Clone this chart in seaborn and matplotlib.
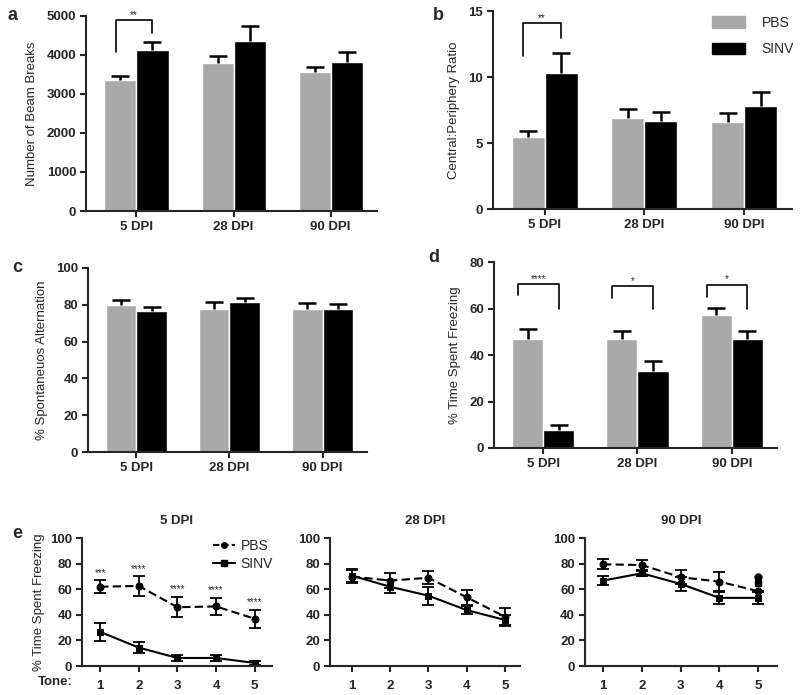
import matplotlib
matplotlib.use("Agg")
import matplotlib.pyplot as plt
from matplotlib.lines import Line2D
from matplotlib.patches import Patch
import seaborn as sns
import pandas as pd

days = ["5 DPI", "28 DPI", "90 DPI"]
groups = ["PBS", "SINV"]
tones = [1, 2, 3, 4, 5]

# a - beam breaks
beam_pbs = [3350, 3790, 3570]
beam_sinv = [4140, 4370, 3830]
beam_pbs_err = [110, 190, 130]
beam_sinv_err = [190, 380, 240]

# b - central:periphery ratio
ratio_pbs = [5.5, 6.93, 6.58]
ratio_sinv = [10.34, 6.7, 7.84]
ratio_pbs_err = [0.42, 0.66, 0.73]
ratio_sinv_err = [1.51, 0.66, 1.06]

# c - spontaneous alternation
alt_pbs = [79.9, 77.9, 77.4]
alt_sinv = [76.8, 81.3, 77.7]
alt_pbs_err = [2.5, 3.6, 3.4]
alt_sinv_err = [2.0, 2.2, 2.6]

# d - freezing
frz_pbs = [47.0, 46.7, 57.1]
frz_sinv = [7.7, 33.0, 46.7]
frz_pbs_err = [4.3, 3.7, 3.3]
frz_sinv_err = [2.2, 4.6, 3.6]

# e - freezing per tone
e5_pbs = [62.0, 62.6, 46.0, 46.6, 37.0]
e5_pbs_err = [5.0, 7.5, 8.0, 6.5, 7.0]
e5_sinv = [26.7, 14.4, 6.3, 6.3, 2.4]
e5_sinv_err = [7.0, 4.5, 2.0, 2.0, 1.5]
e5_stars = ["***", "****", "****", "****", "****"]

e28_pbs = [70.0, 66.8, 69.0, 53.7, 38.5]
e28_pbs_err = [5.0, 6.0, 5.0, 6.0, 7.0]
e28_sinv = [70.7, 62.0, 55.0, 43.7, 36.0]
e28_sinv_err = [5.0, 5.0, 7.0, 3.0, 4.0]

e90_pbs = [79.5, 79.0, 69.4, 66.0, 58.5]
e90_pbs_err = [4.0, 4.0, 5.5, 7.5, 0.0]
e90_sinv = [66.8, 72.5, 64.2, 53.3, 53.3]
e90_sinv_err = [3.5, 2.0, 5.5, 4.5, 4.5]
# stray markers at tone 5 in the 90 DPI panel
e90_stray_pbs = [69.4]
e90_stray_sinv = [65.0]

GRAY = "#a9a9a9"

sns.set_style("ticks")
plt.rcParams["font.family"] = ["Liberation Sans", "DejaVu Sans"]
plt.rcParams["font.weight"] = "bold"
plt.rcParams["axes.linewidth"] = 1.5

fig = plt.figure(figsize=(8, 6.95), dpi=100)


def style_axes(ax):
    sns.despine(ax=ax)
    ax.tick_params(direction="out", length=4, width=1.5, labelsize=9.5, pad=3)


def bar_panel(ax, pbs, sinv, pbs_err, sinv_err, ymax, ystep, ylabel):
    df = pd.DataFrame({"day": days * 2,
                       "group": ["PBS"] * 3 + ["SINV"] * 3,
                       "value": pbs + sinv})
    sns.barplot(data=df, x="day", y="value", hue="group", hue_order=groups,
                palette={"PBS": GRAY, "SINV": "black"}, saturation=1,
                width=0.66, errorbar=None, legend=False, ax=ax)
    bars = sorted(ax.patches, key=lambda p: p.get_x())
    xs = [p.get_x() + p.get_width() / 2 for p in bars]
    hs = [p.get_height() for p in bars]
    errs = []
    for i in range(3):
        errs += [pbs_err[i], sinv_err[i]]
    tops = [h + e for h, e in zip(hs, errs)]
    # upper-only error bars with a single cap
    ax.vlines(xs, hs, tops, color="black", lw=1.8)
    ax.plot(xs, tops, ls="none", marker="_", markersize=13, mew=1.8,
            color="black")
    ax.set_ylim(0, ymax)
    ax.set_yticks(range(0, ymax + 1, ystep))
    ax.set_xlim(-0.52, 2.48)
    ax.set_xlabel("")
    ax.set_ylabel(ylabel, fontsize=9.5, fontweight="normal", labelpad=6)
    style_axes(ax)
    return xs


def bracket(ax, x1, x2, yl, yt, yr, text):
    ax.plot([x1, x1, x2, x2], [yl, yt, yt, yr], color="black", lw=1.2)
    ax.text((x1 + x2) / 2, yt, text, ha="center", va="bottom",
            fontsize=7, fontweight="normal")


# a
ax_a = fig.add_axes([0.1075, 0.6964, 0.364, 0.2806])
xs = bar_panel(ax_a, beam_pbs, beam_sinv, beam_pbs_err, beam_sinv_err,
               5000, 1000, "Number of Beam Breaks")
bracket(ax_a, xs[0] - 0.05, xs[1], 4080, 4900, 4570, "**")

# b
ax_b = fig.add_axes([0.616, 0.699, 0.374, 0.285])
xs = bar_panel(ax_b, ratio_pbs, ratio_sinv, ratio_pbs_err, ratio_sinv_err,
               15, 5, "Central:Periphery Ratio")
bracket(ax_b, xs[0] - 0.05, xs[1], 11.6, 14.07, 13.0, "**")
ax_b.legend(handles=[Patch(color=GRAY, label="PBS"),
                     Patch(color="black", label="SINV")],
            loc="upper left", bbox_to_anchor=(0.69, 1.04), frameon=False,
            prop={"size": 10, "weight": "normal"}, handlelength=2.4,
            handleheight=0.9, labelspacing=0.9, handletextpad=1.2)

# c
ax_c = fig.add_axes([0.11, 0.3496, 0.349, 0.265])
bar_panel(ax_c, alt_pbs, alt_sinv, alt_pbs_err, alt_sinv_err,
          100, 20, "% Spontaneuos Alternation")

# d
ax_d = fig.add_axes([0.6175, 0.3554, 0.354, 0.2676])
xs = bar_panel(ax_d, frz_pbs, frz_sinv, frz_pbs_err, frz_sinv_err,
               80, 20, "% Time Spent Freezing")
for i, (yl, yt, yr, s) in enumerate([(65.7, 70.7, 60.0, "****"),
                                     (64.7, 69.7, 59.6, "*"),
                                     (65.0, 70.3, 59.9, "*")]):
    bracket(ax_d, xs[2 * i] - 0.1, xs[2 * i + 1], yl, yt, yr, s)


# e
def line_panel(ax, pbs, pbs_err, sinv, sinv_err, title, xlim):
    df = pd.DataFrame({"tone": tones * 2,
                       "value": pbs + sinv,
                       "group": ["PBS"] * 5 + ["SINV"] * 5})
    sns.lineplot(data=df, x="tone", y="value", style="group",
                 markers={"PBS": "o", "SINV": "s"},
                 dashes={"PBS": (4, 2), "SINV": ""},
                 color="black", markersize=5, markeredgecolor="black",
                 linewidth=1.5, errorbar=None, legend=False, ax=ax)
    ax.errorbar(tones, pbs, yerr=pbs_err, fmt="none", ecolor="black",
                elinewidth=1.3, capsize=4, capthick=1.3)
    ax.errorbar(tones, sinv, yerr=sinv_err, fmt="none", ecolor="black",
                elinewidth=1.3, capsize=4, capthick=1.3)
    ax.set_ylim(0, 100)
    ax.set_yticks(range(0, 101, 20))
    ax.set_xlim(*xlim)
    ax.set_xticks(tones)
    ax.set_xlabel("")
    ax.set_ylabel("")
    ax.set_title(title, fontsize=9.5, fontweight="bold", pad=10)
    style_axes(ax)
    ax.tick_params(axis="x", pad=6)


ax_e1 = fig.add_axes([0.1025, 0.0417, 0.2375, 0.184])
line_panel(ax_e1, e5_pbs, e5_pbs_err, e5_sinv, e5_sinv_err, "5 DPI", (0.53, 5.45))
ax_e1.set_ylabel("% Time Spent Freezing", fontsize=9.5, fontweight="normal", labelpad=4)
for t, m, er, s in zip(tones, e5_pbs, e5_pbs_err, e5_stars):
    ax_e1.text(t, m + er + 6, s, ha="center", va="center", fontsize=7,
               fontweight="normal")
ax_e1.text(-0.14, -0.125, "Tone:", transform=ax_e1.transAxes, ha="center",
           va="center", fontsize=9.5, fontweight="bold")
ax_e1.legend(handles=[Line2D([], [], color="black", ls=(0, (3, 1.5)), marker="o",
                             markersize=4, lw=1.5, label="PBS"),
                      Line2D([], [], color="black", ls="-", marker="s",
                             markersize=4, lw=1.5, label="SINV")],
             loc="upper left", bbox_to_anchor=(0.66, 1.04), frameon=False,
             prop={"size": 10, "weight": "normal"}, handlelength=1.6,
             handletextpad=0.4, labelspacing=0.3, borderaxespad=0)

ax_e2 = fig.add_axes([0.4125, 0.0417, 0.2375, 0.184])
line_panel(ax_e2, e28_pbs, e28_pbs_err, e28_sinv, e28_sinv_err, "28 DPI", (0.43, 5.39))

ax_e3 = fig.add_axes([0.731, 0.0417, 0.24, 0.184])
line_panel(ax_e3, e90_pbs, e90_pbs_err, e90_sinv, e90_sinv_err, "90 DPI", (0.53, 5.48))
ax_e3.plot([5] * len(e90_stray_pbs), e90_stray_pbs, "o", color="black", markersize=5)
ax_e3.plot([5] * len(e90_stray_sinv), e90_stray_sinv, "s", color="black", markersize=5)

# panel letters
for x, y, s in [(8, 15, "a"), (433, 15, "b"), (12, 267, "c"),
                (428, 258, "d"), (12, 533, "e")]:
    fig.text(x / 800, 1 - y / 695, s, ha="left", va="center",
             fontsize=13, fontweight="bold")

fig.savefig("out.png", dpi=100)
